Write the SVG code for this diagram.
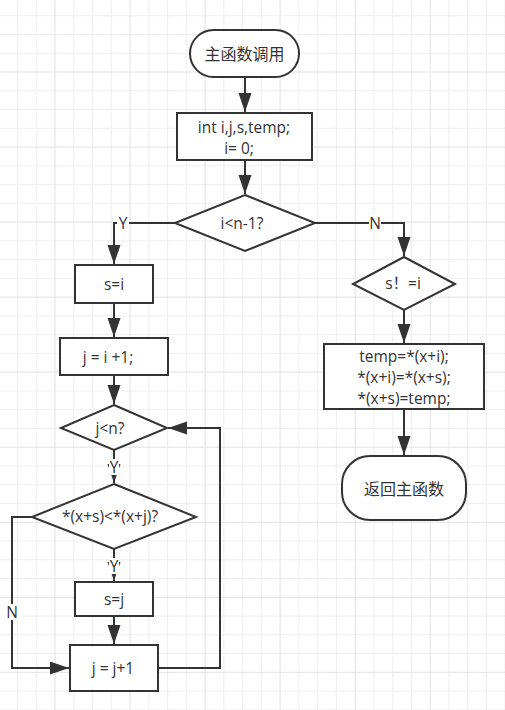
<svg xmlns="http://www.w3.org/2000/svg" width="505" height="710" viewBox="0 0 505 710">
<style>
.n{fill:#fff;stroke:#333;stroke-width:2}
.c{fill:none;stroke:#333;stroke-width:2}
.t{font-family:"Open Sans","Noto Sans CJK SC",sans-serif;font-size:15.5px;fill:#333;text-anchor:middle;dominant-baseline:central}
.cjk{font-size:16px}
.lb{fill:#fff}
</style>
<defs>
<pattern id="grid" patternUnits="userSpaceOnUse" x="54.5" y="71.5" width="75.04" height="75.04">
<rect x="0" y="0" width="75.04" height="75.04" fill="#fff"/>
<g fill="#efefef">
<rect x="18.76" y="0" width="1" height="75.04"/>
<rect x="37.52" y="0" width="1" height="75.04"/>
<rect x="56.28" y="0" width="1" height="75.04"/>
<rect x="0" y="18.76" width="75.04" height="1"/>
<rect x="0" y="37.52" width="75.04" height="1"/>
<rect x="0" y="56.28" width="75.04" height="1"/>
</g>
<g fill="#e2e2e2">
<rect x="0" y="0" width="1" height="75.04"/>
<rect x="0" y="0" width="75.04" height="1"/>
</g>
</pattern>
<marker id="ah" markerUnits="userSpaceOnUse" markerWidth="20" markerHeight="14" refX="19" refY="6.5" orient="auto">
<path d="M0,0 L19,6.5 L0,13 z" fill="#333"/>
</marker>
</defs>
<rect width="505" height="710" fill="url(#grid)"/>

<g id="connectors">
<path class="c" d="M245,77 V112" marker-end="url(#ah)"/>
<path class="c" d="M245,160 V194" marker-end="url(#ah)"/>
<path class="c" d="M175,223 H114 V264" marker-end="url(#ah)"/>
<path class="c" d="M315,223 H404 V256" marker-end="url(#ah)"/>
<path class="c" d="M114,303 V337" marker-end="url(#ah)"/>
<path class="c" d="M114,375 V404" marker-end="url(#ah)"/>
<path class="c" d="M114,450 V483" marker-end="url(#ah)"/>
<path class="c" d="M114,549 V581" marker-end="url(#ah)"/>
<path class="c" d="M114,616 V644" marker-end="url(#ah)"/>
<path class="c" d="M32,517 H12 V668 H69" marker-end="url(#ah)"/>
<path class="c" d="M158,668 H220 V428 H168" marker-end="url(#ah)"/>
<path class="c" d="M404,310 V343" marker-end="url(#ah)"/>
<path class="c" d="M404,409 V455" marker-end="url(#ah)"/>
<g id="labels">
<rect class="lb" x="117" y="215" width="12" height="16"/>
<text class="t" x="123" y="223">Y</text>
<rect class="lb" x="369" y="215" width="12" height="16"/>
<text class="t" x="375" y="223">N</text>
<rect class="lb" x="109" y="459" width="10" height="16"/>
<text class="t" x="114" y="467">Y</text>
<rect class="lb" x="109" y="558" width="10" height="16"/>
<text class="t" x="114" y="566">Y</text>
<rect class="lb" x="6" y="604" width="12" height="16"/>
<text class="t" x="12" y="612">N</text>
</g>
</g>

<g id="start">
<rect class="n" x="190" y="30" width="109" height="47" rx="23.5"/>
<text class="t cjk" x="244.5" y="54">主函数调用</text>
</g>
<g id="init">
<rect class="n" x="177" y="113" width="135" height="47"/>
<text class="t" x="244" y="126.5">int i,j,s,temp;</text>
<text class="t" x="239" y="147.5">i= 0;</text>
</g>
<g id="cond1">
<polygon class="n" points="245,195 315,223 245,251 175,223"/>
<text class="t" x="242" y="223">i&lt;n-1?</text>
</g>
<g id="sEqI">
<rect class="n" x="75" y="265" width="78" height="38"/>
<text class="t" x="114" y="284">s=i</text>
</g>
<g id="jInit">
<rect class="n" x="60" y="338" width="108" height="37"/>
<text class="t" x="108" y="357">j = i +1;</text>
</g>
<g id="cond2">
<polygon class="n" points="114,405 167,428 114,450 61,428"/>
<text class="t" x="110" y="428">j&lt;n?</text>
</g>
<g id="cond3">
<polygon class="n" points="114,484 196,517 114,549 32,517"/>
<text class="t" x="110" y="516">*(x+s)&lt;*(x+j)?</text>
</g>
<g id="sEqJ">
<rect class="n" x="75" y="582" width="78" height="34"/>
<text class="t" x="114" y="599">s=j</text>
</g>
<g id="jInc">
<rect class="n" x="70" y="645" width="88" height="46"/>
<text class="t" x="113" y="668">j = j+1</text>
</g>
<g id="cond4">
<polygon class="n" points="404,257 455,284 404,310 353,284"/>
<text class="t" x="403" y="283">s！=i</text>
</g>
<g id="swap">
<rect class="n" x="324" y="344" width="160" height="65"/>
<text class="t" x="404" y="355.5">temp=*(x+i);</text>
<text class="t" x="404" y="376.5">*(x+i)=*(x+s);</text>
<text class="t" x="404" y="397.5">*(x+s)=temp;</text>
</g>
<g id="end">
<rect class="n" x="342" y="456" width="124" height="64" rx="28"/>
<text class="t cjk" x="404" y="489">返回主函数</text>
</g>
</svg>
